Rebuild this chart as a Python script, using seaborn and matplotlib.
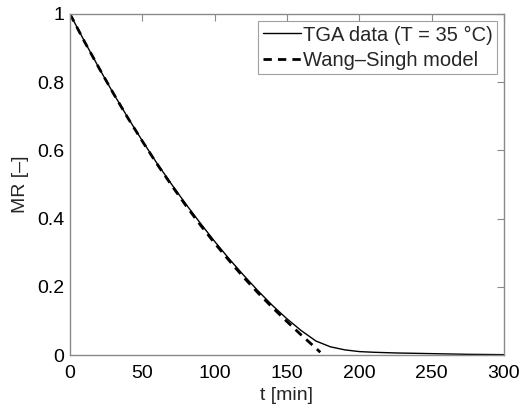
import numpy as np
import pandas as pd
import matplotlib
matplotlib.use("Agg")
import matplotlib.pyplot as plt
import seaborn as sns

# TGA data (T = 35 °C)
t_data = [0, 10, 20, 30, 40, 50, 60, 70, 80, 90, 100, 110, 120, 130, 140, 150,
          160, 170, 180, 190, 200, 210, 225, 250, 275, 300]
mr_data = [1.0, 0.920, 0.842, 0.767, 0.696, 0.628, 0.563, 0.502, 0.443, 0.387,
           0.333, 0.282, 0.234, 0.188, 0.145, 0.106, 0.071, 0.041, 0.024, 0.015,
           0.010, 0.008, 0.006, 0.004, 0.002, 0.001]

# Wang-Singh model
t_model = [0, 10, 20, 30, 40, 50, 60, 70, 80, 90, 100, 110, 120, 130, 140, 150,
           160, 170, 173]
mr_model = [1.0, 0.919, 0.842, 0.767, 0.695, 0.627, 0.561, 0.499, 0.439, 0.382,
            0.328, 0.277, 0.228, 0.182, 0.139, 0.098, 0.058, 0.020, 0.008]

x_ticks = [0, 50, 100, 150, 200, 250, 300]
y_ticks = [0, 0.2, 0.4, 0.6, 0.8, 1]
y_ticklabels = ["0", "0.2", "0.4", "0.6", "0.8", "1"]

sns.set_style("white")
plt.rcParams["font.family"] = ["Liberation Sans", "DejaVu Sans"]

fig = plt.figure(figsize=(5.2, 4.05), dpi=100)
ax = fig.add_axes([70 / 520, 50 / 405, 434 / 520, 341 / 405])

df_data = pd.DataFrame({"t": t_data, "MR": mr_data})
df_model = pd.DataFrame({"t": t_model, "MR": mr_model})

sns.lineplot(data=df_data, x="t", y="MR", ax=ax, color="black", linewidth=1.0,
             label="TGA data (T = 35 °C)")
sns.lineplot(data=df_model, x="t", y="MR", ax=ax, color="black", linewidth=2.0,
             linestyle=(0, (3, 2.2)), label="Wang\u2013Singh model")

ax.set_xlim(0, 300)
ax.set_ylim(0, 1)
ax.set_xticks(x_ticks)
ax.set_yticks(y_ticks)
ax.set_yticklabels(y_ticklabels)
ax.set_xlabel("t [min]", fontsize=14, labelpad=4)
ax.set_ylabel("MR [\u2013]", fontsize=14, labelpad=6)

gray = "#8a8a8a"
for s in ax.spines.values():
    s.set_visible(True)
    s.set_color(gray)
    s.set_linewidth(1.0)
ax.tick_params(direction="in", length=5, width=0.8, color=gray, labelsize=14,
               top=True, right=True, labelcolor="black")
ax.tick_params(axis="x", pad=7)
ax.tick_params(axis="y", pad=4)

leg = ax.legend(loc="upper right", fontsize=14.5, frameon=True, fancybox=False,
                edgecolor=gray, handlelength=1.9, handletextpad=0.08,
                borderpad=0.22, labelspacing=0.3, borderaxespad=0.35)
leg.get_frame().set_linewidth(0.8)

fig.savefig("out.png", dpi=100)
